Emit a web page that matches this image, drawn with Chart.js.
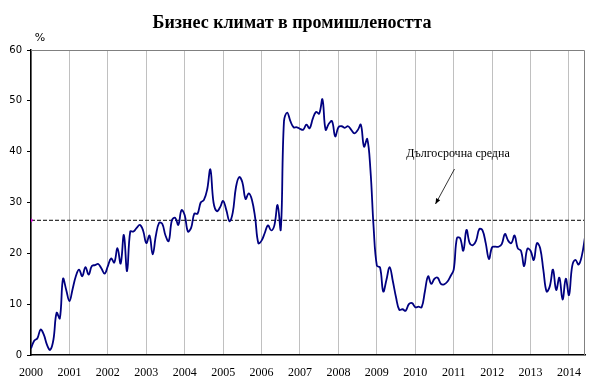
<!DOCTYPE html>
<html>
<head>
<meta charset="utf-8">
<script src="https://cdn.jsdelivr.net/npm/chart.js@4/dist/chart.umd.min.js"></script>
<style>
  html, body { margin: 0; padding: 0; background: #fff; }
  #wrap { width: 599px; height: 386px; position: relative; }
</style>
</head>
<body>
<div id="wrap"><canvas id="climatChart"></canvas></div>
<script>
// Бизнес климат в промишлеността, месечни данни от януари 2000 г.
const years = [2000, 2001, 2002, 2003, 2004, 2005, 2006, 2007, 2008, 2009, 2010, 2011, 2012, 2013, 2014];
const yTicks = [0, 10, 20, 30, 40, 50, 60];
const businessClimate = [
    1.3, 2.8, 3.3, 5.0, 4.0, 2.0, 1.0, 3.0, 8.3, 7.2, 15.0, 12.8,
    10.6, 13.0, 15.5, 16.8, 15.5, 17.3, 15.8, 17.5, 17.7, 17.9, 17.0, 16.0,
    17.5, 19.0, 18.2, 21.0, 18.0, 23.6, 16.5, 24.3, 24.3, 25.0, 25.6, 24.5,
    22.0, 23.5, 19.8, 23.5, 26.0, 25.8, 23.5, 22.4, 26.5, 27.0, 25.6, 28.5,
    27.5, 24.3, 25.0, 27.8, 27.8, 30.0, 30.5, 32.5, 36.5, 30.0, 28.3, 29.0,
    30.3, 28.5, 26.3, 28.0, 33.0, 35.0, 34.0, 30.7, 31.8, 30.5, 27.0, 22.0,
    22.5, 24.0, 25.5, 24.5, 25.5, 29.5, 24.7, 46.0, 47.7, 46.0, 44.8, 44.8,
    44.5, 44.3, 45.3, 44.6, 46.5, 47.8, 47.5, 50.3, 44.3, 45.5, 46.0, 43.0,
    44.8, 45.0, 44.7, 45.0, 44.3, 43.6, 44.2, 45.3, 41.0, 42.5, 36.4, 25.0,
    17.6, 17.2, 12.5, 14.8, 17.3, 14.5, 11.3, 8.9, 9.0, 8.7, 10.0, 10.2,
    9.4, 9.5, 9.4, 12.5, 15.5, 14.0, 15.0, 15.2, 14.0, 13.9, 14.4, 15.5,
    16.8, 23.0, 23.0, 20.5, 24.6, 22.0, 21.6, 22.5, 24.8, 24.5, 22.0, 18.9,
    21.2, 21.3, 21.3, 21.8, 23.8, 22.5, 22.0, 23.5, 21.0, 20.5, 17.5, 20.9,
    20.5, 18.7, 22.0, 21.0, 16.7, 12.5, 13.5, 16.8, 12.8, 15.2, 10.9, 15.0,
    11.8, 17.5, 18.7, 17.8, 19.5, 23.2
];
const longTermAverage = 26.5;

const lastMonth = businessClimate.length - 1;
const linePoints = businessClimate.map((v, i) => ({ x: i, y: v }));
const avgPoints = [{ x: 0, y: longTermAverage }, { x: lastMonth, y: longTermAverage }];

// надписи и рамка, които Chart.js не рисува сам
const decorations = {
    id: 'decorations',
    afterDraw(chart) {
        const { ctx, chartArea: a } = chart;
        ctx.save();
        // сива рамка отгоре и отдясно
        ctx.strokeStyle = '#808080';
        ctx.lineWidth = 1;
        ctx.beginPath();
        ctx.moveTo(a.left, a.top + 0.5);
        ctx.lineTo(a.right - 0.5, a.top + 0.5);
        ctx.lineTo(a.right - 0.5, a.bottom);
        ctx.stroke();

        ctx.fillStyle = '#000';
        ctx.textAlign = 'center';
        ctx.textBaseline = 'middle';
        ctx.font = 'bold 18px "Liberation Serif"';
        ctx.fillText('Бизнес климат в промишлеността', 292, 23);

        ctx.font = '11px "DejaVu Sans"';
        ctx.fillText('%', 40, 38);

        ctx.font = '12px "Liberation Serif"';
        ctx.fillText('Дългосрочна средна', 458, 154);

        // стрелка към линията на средната
        const x1 = 454.5, y1 = 169, x2 = 435.5, y2 = 204;
        ctx.strokeStyle = '#000';
        ctx.lineWidth = 0.8;
        ctx.beginPath();
        ctx.moveTo(x1, y1);
        ctx.lineTo(x2, y2);
        ctx.stroke();
        const ang = Math.atan2(y2 - y1, x2 - x1);
        ctx.beginPath();
        ctx.moveTo(x2, y2);
        ctx.lineTo(x2 - 6 * Math.cos(ang - 0.4), y2 - 6 * Math.sin(ang - 0.4));
        ctx.lineTo(x2 - 6 * Math.cos(ang + 0.4), y2 - 6 * Math.sin(ang + 0.4));
        ctx.closePath();
        ctx.fill();
        ctx.restore();
    }
};

const ctx = document.getElementById('climatChart').getContext('2d');
new Chart(ctx, {
    type: 'line',
    data: {
        datasets: [{
            label: 'Бизнес климат',
            data: linePoints,
            borderColor: '#000080',
            borderWidth: 1.8,
            pointRadius: 0,
            tension: 0.4,
            fill: false
        }, {
            label: 'Дългосрочна средна',
            data: avgPoints,
            borderColor: '#000',
            borderWidth: 1,
            borderDash: [4, 2],
            pointRadius: (c) => c.dataIndex === 0 ? 1.5 : 0,
            pointBackgroundColor: '#e000e0',
            pointBorderColor: '#e000e0',
            pointStyle: 'rect',
            fill: false
        }]
    },
    options: {
        responsive: true,
        maintainAspectRatio: false,
        animation: false,
        layout: { padding: { top: 50, right: 14, left: 0, bottom: 0 } },
        plugins: {
            legend: { display: false },
            tooltip: { enabled: false }
        },
        scales: {
            x: {
                type: 'linear',
                min: 0,
                max: lastMonth,
                afterBuildTicks: (scale) => {
                    scale.ticks = years.map((y, i) => ({ value: i * 12 }));
                },
                afterFit: (scale) => { scale.height = 31; },
                ticks: {
                    callback: (v, i) => years[i],
                    color: '#000',
                    font: { family: 'Liberation Serif', size: 12 },
                    maxRotation: 0,
                    autoSkip: false,
                    padding: 11
                },
                grid: { color: '#c0c0c0', drawTicks: false },
                border: { color: '#000', width: 1.5 }
            },
            y: {
                min: 0,
                max: 60,
                afterBuildTicks: (scale) => {
                    scale.ticks = yTicks.map(v => ({ value: v }));
                },
                afterFit: (scale) => { scale.width = 31; },
                ticks: {
                    color: '#000',
                    font: { family: 'DejaVu Sans', size: 10 },
                    padding: 5
                },
                grid: { drawOnChartArea: false, color: '#000', tickLength: 4 },
                border: { color: '#000', width: 1.5 }
            }
        }
    },
    plugins: [decorations]
});
</script>
</body>
</html>
